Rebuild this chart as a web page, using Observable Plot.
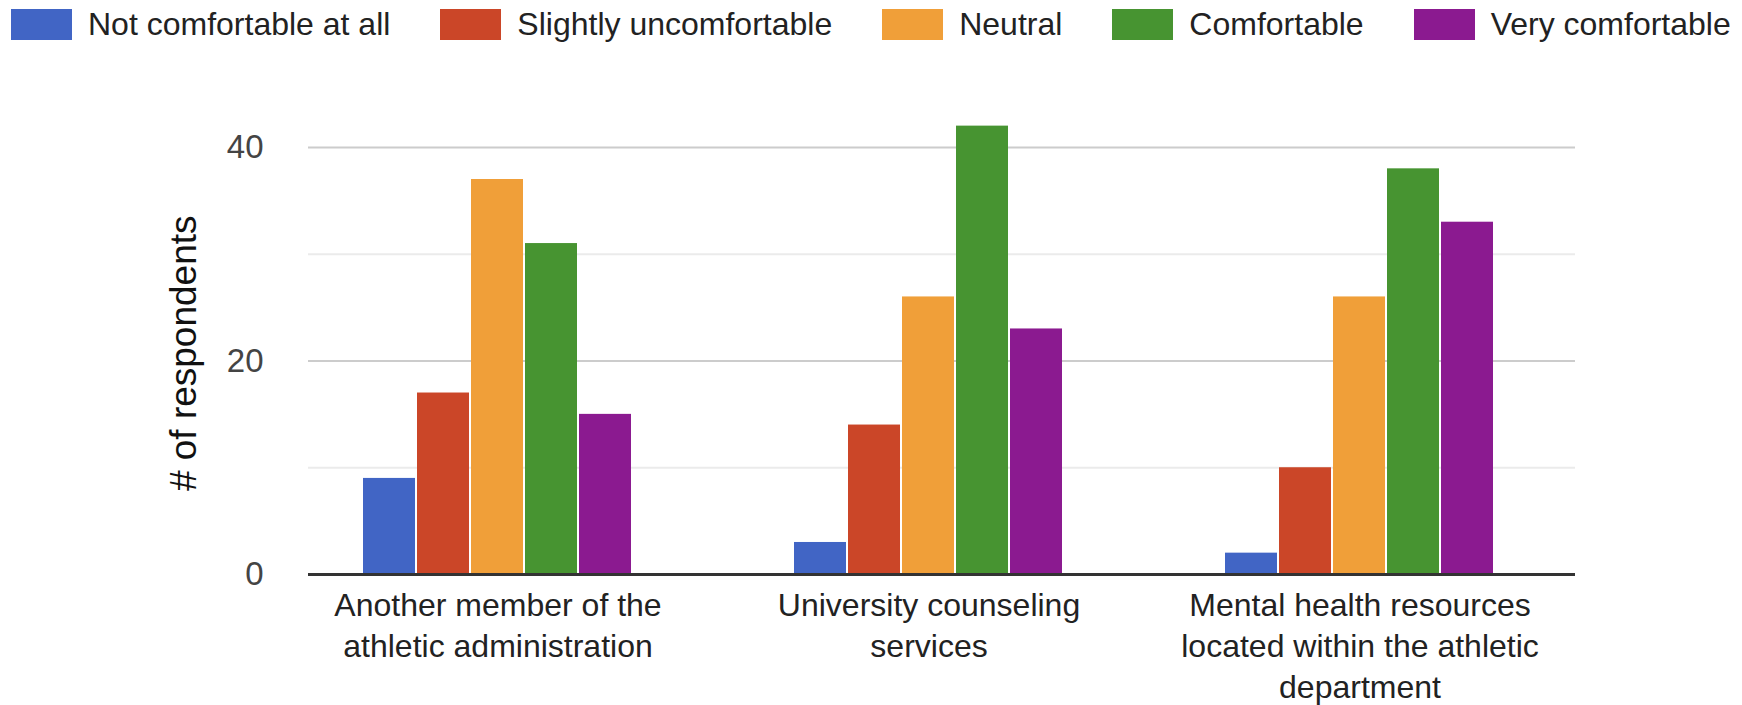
<!DOCTYPE html>
<html><head><meta charset="utf-8">
<script src="https://cdn.jsdelivr.net/npm/d3@7"></script>
<script src="https://cdn.jsdelivr.net/npm/@observablehq/plot@0.6"></script>
<style>
html,body{margin:0;padding:0;background:#fff;}
body{width:1742px;height:705px;overflow:hidden;font-family:"Liberation Sans",Arial,sans-serif;}
#legend{height:44px;box-sizing:border-box;padding:6px 0 0 11px;overflow:hidden;white-space:nowrap;}
div.lg-swatches{font-family:"Liberation Sans",Arial,sans-serif;font-size:32px;margin:0;color:#222;min-height:0;}
div.lg-swatches-wrap{flex-wrap:nowrap;width:max-content;}
div.lg-swatches-wrap .lg-swatch{margin-right:50px;}
div.lg-swatches-wrap .lg-swatch:last-child{margin-right:0;}
div.lg-swatches .lg-swatch > svg{margin-right:16px;}
#chart svg{display:block;}
</style></head><body>
<div id="legend"></div><div id="chart"></div>
<script>
const categories = [
  "Another member of the athletic administration",
  "University counseling services",
  "Mental health resources located within the athletic department"
];
const tickLabels = [
  "Another member of the\nathletic administration",
  "University counseling\nservices",
  "Mental health resources\nlocated within the athletic\ndepartment"
];
const series = ["Not comfortable at all", "Slightly uncomfortable", "Neutral", "Comfortable", "Very comfortable"];
const colors = ["#4165c5", "#cb4628", "#f09f39", "#479431", "#8b1a90"];
const notComfortableAtAll = [9, 3, 2];
const slightlyUncomfortable = [17, 14, 10];
const neutral = [37, 26, 26];
const comfortable = [31, 42, 38];
const veryComfortable = [15, 23, 33];
const yTickLabels = [0, 20, 40];
const majorGrid = [20, 40];
const minorGrid = [10, 30];
const yLabel = "# of respondents";

const seriesValues = [notComfortableAtAll, slightlyUncomfortable, neutral, comfortable, veryComfortable];
const data = categories.flatMap((c, i) => series.map((s, j) => ({category: c, series: s, value: seriesValues[j][i]})));

// grid rows per facet so the first facet's lines can start a little later, as in the reference
const gridRows = (levels) => categories.flatMap(c => levels.map(v => ({category: c, value: v})));
const firstOnly = (rows) => rows.filter(r => r.category === categories[0]);
const restOnly = (rows) => rows.filter(r => r.category !== categories[0]);

const legend = Plot.legend({
  color: {domain: series, range: colors},
  swatchWidth: 61, swatchHeight: 31, className: "lg"
});
document.getElementById("legend").appendChild(legend);

const minorRows = gridRows(minorGrid), majorRows = gridRows(majorGrid), baseRows = gridRows([0]);
const gridStyle = (stroke, w) => ({fx: "category", y: "value", stroke, strokeWidth: w});

const chart = Plot.plot({
  width: 1742, height: 661,
  marginLeft: 281, marginRight: 167, marginTop: 49.6, marginBottom: 131,
  style: {fontFamily: "Liberation Sans, Arial, sans-serif", fontSize: "30px", background: "#fff", overflow: "visible"},
  fx: {domain: categories, padding: 0},
  x: {domain: series, axis: null, paddingInner: 0.037, paddingOuter: 1.476},
  y: {domain: [0, 45]},
  color: {domain: series, range: colors},
  marks: [
    Plot.ruleY(firstOnly(minorRows), {...gridStyle("#ebebeb", 2), insetLeft: 26}),
    Plot.ruleY(restOnly(minorRows), gridStyle("#ebebeb", 2)),
    Plot.ruleY(firstOnly(majorRows), {...gridStyle("#cccccc", 2), insetLeft: 26}),
    Plot.ruleY(restOnly(majorRows), gridStyle("#cccccc", 2)),
    Plot.barY(data, {fx: "category", x: "series", y: "value", fill: "series"}),
    Plot.ruleY(firstOnly(baseRows), {...gridStyle("#333", 3), insetLeft: 26}),
    Plot.ruleY(restOnly(baseRows), gridStyle("#333", 3)),
    Plot.axisY(yTickLabels, {anchor: "left", tickSize: 0, tickPadding: 19, fontSize: 33, fill: "#444", label: null}),
    Plot.axisFx({anchor: "bottom", tickSize: 0, tickPadding: 12, fontSize: 32, fill: "#222", lineHeight: 1.28,
      tickFormat: d => tickLabels[categories.indexOf(d)], label: null}),
    Plot.text([yLabel], {frameAnchor: "left", facetAnchor: "left", rotate: -90, textAnchor: "middle",
      dx: -98, dy: 19, fontSize: 37, fill: "#111"})
  ]
});
document.getElementById("chart").appendChild(chart);
</script>
</body></html>
